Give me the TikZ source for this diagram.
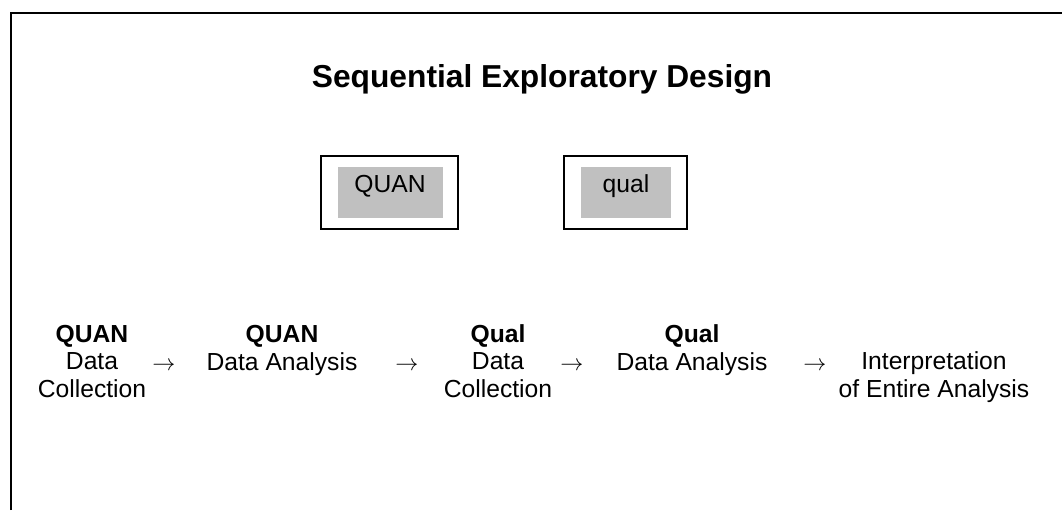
\documentclass[tikz,border=0pt]{standalone}
\usepackage{fontspec}
\setmainfont{Liberation Sans}
\begin{document}
\begin{tikzpicture}[x=0.75pt,y=-0.75pt,
  frame/.style={line width=1.5pt,draw=black},
  outerbox/.style={draw=black,line width=1.2pt},
  innerbox/.style={fill=shade},
  title/.style={font=\fontsize{23.8}{28}\selectfont\bfseries},
  boxlabel/.style={font=\fontsize{18.5}{22}\selectfont,anchor=base,inner sep=0pt},
  stage/.style={font=\fontsize{18.5}{20.3}\selectfont,align=center,anchor=base,inner sep=0pt},
  flow/.style={font=\fontsize{18.5}{22}\selectfont,anchor=base,inner sep=0pt}]
  \definecolor{shade}{HTML}{C0C0C0}
  \useasboundingbox (0,0) rectangle (1062,510);

  % frame (top and left edges)
  \coordinate (fb) at (10.5,510);
  \coordinate (fc) at (10.5,12.8);
  \coordinate (fr) at (1062,12.8);
  \draw[frame] (fb) -- (fc) -- (fr);

  % title
  \node[title,anchor=base] (ttl) at (542,87) {Sequential Exploratory Design};

  % QUAN and qual boxes
  \draw[outerbox] (321,156) rectangle (458,229);
  \fill[innerbox] (338,167) rectangle (443,218);
  \node[boxlabel] (quan) at (390,192) {QUAN};

  \draw[outerbox] (564,156) rectangle (687,229);
  \fill[innerbox] (581,167) rectangle (671,218);
  \node[boxlabel] (qual) at (626,192) {qual};

  % sequence of stages (anchored at the baseline of the last line)
  \node[stage] (s1) at (92,397) {\textbf{QUAN}\\Data\\Collection};
  \node[flow] (a1) at (164,370) {$\rightarrow$};
  \node[stage] (s2) at (282,370) {\textbf{QUAN}\\Data Analysis};
  \node[flow] (a2) at (407,370) {$\rightarrow$};
  \node[stage] (s3) at (498,397) {\textbf{Qual}\\Data\\Collection};
  \node[flow] (a3) at (572,370) {$\rightarrow$};
  \node[stage] (s4) at (692,370) {\textbf{Qual}\\Data Analysis};
  \node[flow] (a4) at (815,370) {$\rightarrow$};
  \node[stage] (s5) at (934,397) {Interpretation\\of Entire Analysis};
\end{tikzpicture}
\end{document}
